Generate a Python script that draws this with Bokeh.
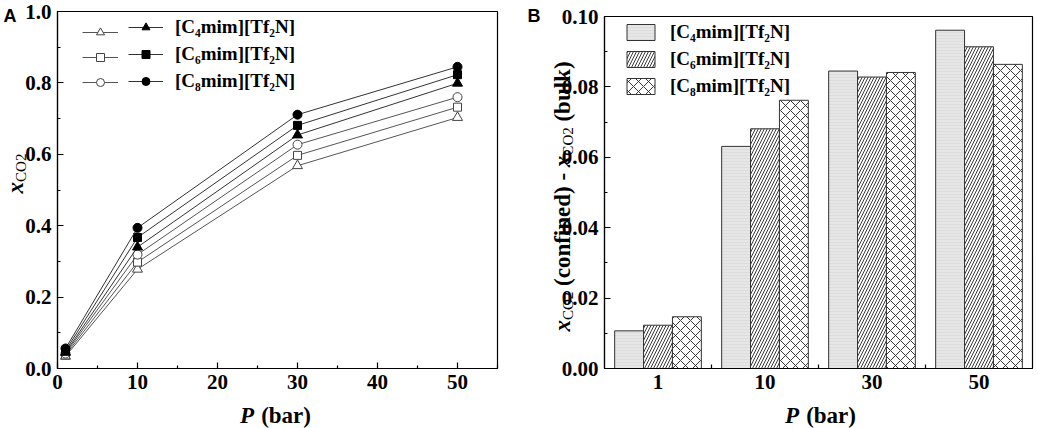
import math
from bokeh.plotting import figure
from bokeh.layouts import row
from bokeh.models import (Range1d, FixedTicker, PrintfTickFormatter, Legend, LegendItem,
                          Label, BoxAnnotation)
from bokeh.embed import file_html
from bokeh.resources import INLINE

SERIF = "Liberation Serif"
SANS = "Liberation Sans"

# ---------------- data ----------------
pressure = [1, 10, 30, 50]
pressure_labels = ["1", "10", "30", "50"]
series_names = ["[C\u2084mim][Tf\u2082N]", "[C\u2086mim][Tf\u2082N]", "[C\u2088mim][Tf\u2082N]"]

# panel A: open symbols (lower set) and filled symbols (upper set)
c4_open = [0.034, 0.278, 0.568, 0.703]
c6_open = [0.038, 0.298, 0.597, 0.732]
c8_open = [0.042, 0.319, 0.627, 0.760]
c4_filled = [0.045, 0.340, 0.654, 0.799]
c6_filled = [0.050, 0.367, 0.681, 0.823]
c8_filled = [0.056, 0.394, 0.711, 0.845]

# panel B: x_CO2(confined) - x_CO2(bulk)
c4_diff = [0.0107, 0.0631, 0.0845, 0.0961]
c6_diff = [0.0123, 0.0681, 0.0828, 0.0914]
c8_diff = [0.0147, 0.0762, 0.0841, 0.0864]

a_xticks = [0, 10, 20, 30, 40, 50]
a_xminor = [5, 15, 25, 35, 45, 55]
a_yticks = [0.0, 0.2, 0.4, 0.6, 0.8, 1.0]
a_yminor = [0.1, 0.3, 0.5, 0.7, 0.9]
b_yticks = [0.0, 0.02, 0.04, 0.06, 0.08, 0.10]
b_yminor = [0.01, 0.03, 0.05, 0.07, 0.09]


# ---------------- layout helper (page pixels) ----------------
class Panel:
    def __init__(self, cx0, cy0, w, h, box, xlim, ylim):
        self.cx0, self.cy0, self.w, self.h = cx0, cy0, w, h
        self.L, self.R, self.T, self.B = box
        self.xa, self.xb = xlim
        self.ya, self.yb = ylim
        self.sx = (self.R - self.L) / (self.xb - self.xa)
        self.sy = (self.B - self.T) / (self.yb - self.ya)

    def xrange(self):
        return Range1d(self.xa - (self.L - self.cx0) / self.sx,
                       self.xb + (self.cx0 + self.w - self.R) / self.sx)

    def yrange(self):
        return Range1d(self.ya - (self.cy0 + self.h - self.B) / self.sy,
                       self.yb + (self.T - self.cy0) / self.sy)

    def xy(self, px, py):
        return self.xa + (px - self.L) / self.sx, self.ya + (self.B - py) / self.sy

    def screen(self, px, py_bottom):
        return (px - self.cx0, self.cy0 + self.h - py_bottom)


PA = Panel(0, 0, 520, 428, (57, 497, 11, 368), (0, 55), (0.0, 1.0))
PB = Panel(520, 0, 518, 428, (604, 1032, 16, 368), (0.5, 4.5), (0.0, 0.10))

# Times-like glyph widths (per 1000 em)
W_BOLD = {' ': 250, '(': 333, ')': 333, '-': 333, 'c': 444, 'o': 500, 'n': 556, 'f': 333,
          'i': 278, 'e': 444, 'd': 556, 'b': 556, 'u': 556, 'l': 278, 'k': 556, 'a': 500, 'r': 444}
W_NORM = {'C': 667, 'O': 722, '2': 500, ' ': 250}
W_BI = {'x': 500, 'P': 667, ' ': 250}


def tw(s, style, size):
    table = W_BI if style == "bold italic" else (W_NORM if style == "normal" else W_BOLD)
    return sum(table.get(c, 500) for c in s) / 1000.0 * size


def split_lead(t):
    s = t.lstrip(" ")
    return t[:len(t) - len(s)], s.rstrip(" ")


def add_vtext(fig, pan, pieces, center_py, base_px):
    total = sum(tw(t, st, sz) for t, st, sz, dx in pieces)
    cur = center_py + total / 2.0
    for t, st, sz, dx in pieces:
        lead, body = split_lead(t)
        x, y = pan.xy(base_px + dx, cur - tw(lead, st, sz))
        fig.add_layout(Label(x=x, y=y, text=body, angle=math.pi / 2, text_align="left",
                             text_baseline="alphabetic", text_font=SERIF, text_font_style=st,
                             text_font_size=f"{sz}px", text_color="black"))
        cur -= tw(t, st, sz)


def add_htext(fig, pan, pieces, center_px, base_py):
    total = sum(tw(t, st, sz) for t, st, sz, dy in pieces)
    cur = center_px - total / 2.0
    for t, st, sz, dy in pieces:
        lead, body = split_lead(t)
        x, y = pan.xy(cur + tw(lead, st, sz), base_py + dy)
        fig.add_layout(Label(x=x, y=y, text=body, text_align="left",
                             text_baseline="alphabetic", text_font=SERIF, text_font_style=st,
                             text_font_size=f"{sz}px", text_color="black"))
        cur += tw(t, st, sz)


def make_fig(pan):
    p = figure(width=pan.w, height=pan.h, x_range=pan.xrange(), y_range=pan.yrange(),
               output_backend="svg", toolbar_location=None,
               min_border_left=0, min_border_right=0, min_border_top=0, min_border_bottom=0)
    p.background_fill_color = "white"
    p.border_fill_color = "white"
    p.outline_line_color = None
    p.xgrid.visible = False
    p.ygrid.visible = False
    p.xaxis.fixed_location = pan.ya
    p.yaxis.fixed_location = pan.xa
    p.xaxis.bounds = (pan.xa, pan.xb)
    p.yaxis.bounds = (pan.ya, pan.yb)
    for ax in (p.xaxis[0], p.yaxis[0]):
        ax.axis_line_color = "black"
        ax.axis_line_width = 1.2
        ax.major_tick_in = 6
        ax.major_tick_out = 0
        ax.minor_tick_in = 3
        ax.minor_tick_out = 0
        ax.major_tick_line_color = "black"
        ax.minor_tick_line_color = "black"
        ax.major_tick_line_width = 1.2
        ax.minor_tick_line_width = 1.2
        ax.major_label_text_font = SERIF
        ax.major_label_text_font_style = "bold"
        ax.major_label_text_font_size = "21px"
        ax.major_label_text_color = "black"
        ax.major_label_standoff = 6
        ax.axis_label = None
    p.add_layout(BoxAnnotation(left=pan.xa, right=pan.xb, bottom=pan.ya, top=pan.yb,
                               fill_alpha=0, line_color="black", line_width=1.2,
                               line_alpha=1))
    return p


leg_common = dict(orientation="vertical", padding=0, margin=0, spacing=5,
                  glyph_height=20, label_height=20,
                  background_fill_alpha=0, border_line_alpha=0,
                  label_text_font=SERIF, label_text_font_style="bold",
                  label_text_font_size="19px", label_text_color="black")
ROW_H = 22
LEG_H = 3 * ROW_H + 2 * 5

# ---------------- panel A ----------------
pa = make_fig(PA)
pa.xaxis.ticker = FixedTicker(ticks=a_xticks, minor_ticks=a_xminor)
pa.yaxis.ticker = FixedTicker(ticks=a_yticks, minor_ticks=a_yminor)
pa.yaxis.formatter = PrintfTickFormatter(format="%.1f")

markers = ["triangle", "square", "circle"]
msizes = [10, 8, 9]
open_sets = [c4_open, c6_open, c8_open]
filled_sets = [c4_filled, c6_filled, c8_filled]
open_items, filled_items = [], []
for i in range(3):
    lo = pa.line(pressure, open_sets[i], line_color="#555555", line_width=1)
    so = pa.scatter(pressure, open_sets[i], marker=markers[i], size=msizes[i],
                    fill_color="white", line_color="#444444", line_width=1)
    open_items.append(LegendItem(label=" ", renderers=[lo, so]))
for i in range(3):
    lf = pa.line(pressure, filled_sets[i], line_color="#333333", line_width=1)
    sf = pa.scatter(pressure, filled_sets[i], marker=markers[i], size=msizes[i],
                    fill_color="black", line_color="black", line_width=1)
    filled_items.append(LegendItem(label=series_names[i], renderers=[lf, sf]))

a_leg_top = 27 - ROW_H / 2
leg1 = Legend(items=open_items, location=PA.screen(82, a_leg_top + LEG_H),
              glyph_width=36, label_standoff=0, **leg_common)
leg2 = Legend(items=filled_items, location=PA.screen(128, a_leg_top + LEG_H),
              glyph_width=35, label_standoff=12, **leg_common)
pa.add_layout(leg1)
pa.add_layout(leg2)

add_vtext(pa, PA, [("x", "bold italic", 23, 0), ("CO2", "normal", 15, 5)], 173, 15)
add_htext(pa, PA, [("P", "bold italic", 23, 0), (" (bar)", "bold", 23, 0)], 275, 415)
ax_, ay_ = PA.xy(3, 5)
pa.add_layout(Label(x=ax_, y=ay_, text="A", text_align="left", text_baseline="top",
                    text_font=SANS, text_font_style="bold", text_font_size="18px",
                    text_color="black"))

# ---------------- panel B ----------------
pb = make_fig(PB)
pb.xaxis.ticker = FixedTicker(ticks=[i + 1 for i in range(len(pressure))],
                              minor_ticks=[i + 1.5 for i in range(len(pressure) - 1)])
pb.xaxis.major_label_overrides = {i + 1: lab for i, lab in enumerate(pressure_labels)}
pb.xaxis.major_tick_in = 0
pb.xaxis.minor_tick_in = 4
pb.yaxis.ticker = FixedTicker(ticks=b_yticks, minor_ticks=b_yminor)
pb.yaxis.formatter = PrintfTickFormatter(format="%.2f")

bw = 0.27
diffs = [c4_diff, c6_diff, c8_diff]
bar_styles = [
    dict(fill_color="#e6e6e6", hatch_pattern="-", hatch_color="#d6d6d6", hatch_scale=3, hatch_weight=0.6),
    dict(fill_color="white", hatch_pattern="/", hatch_color="#222222", hatch_scale=6, hatch_weight=0.9),
    dict(fill_color="white", hatch_pattern="x", hatch_color="#222222", hatch_scale=10, hatch_weight=0.9),
]
bar_items = []
for k in range(3):
    xs = [i + 1 + (k - 1) * bw for i in range(len(pressure))]
    r = pb.vbar(x=xs, top=diffs[k], bottom=0, width=bw, line_color="#333333", line_width=1,
                **bar_styles[k])
    bar_items.append(LegendItem(label=series_names[k], renderers=[r]))

b_leg_top = 32 - ROW_H / 2
legb = Legend(items=bar_items, location=PB.screen(623, b_leg_top + LEG_H),
              glyph_width=35, label_standoff=12, **leg_common)
pb.add_layout(legb)

add_vtext(pb, PB, [("x", "bold italic", 23, 0), ("CO2", "normal", 15, 5),
                   (" (confined) - ", "bold", 23, 0), ("x", "bold italic", 23, 0),
                   ("CO2", "normal", 15, 5), (" (bulk)", "bold", 23, 0)], 196, 562)
add_htext(pb, PB, [("P", "bold italic", 23, 0), (" (bar)", "bold", 23, 0)], 820, 415)
bx_, by_ = PB.xy(527, 5)
pb.add_layout(Label(x=bx_, y=by_, text="B", text_align="left", text_baseline="top",
                    text_font=SANS, text_font_style="bold", text_font_size="18px",
                    text_color="black"))

layout = row(pa, pb, spacing=0)
open("out.html", "w").write(file_html(layout, INLINE))
